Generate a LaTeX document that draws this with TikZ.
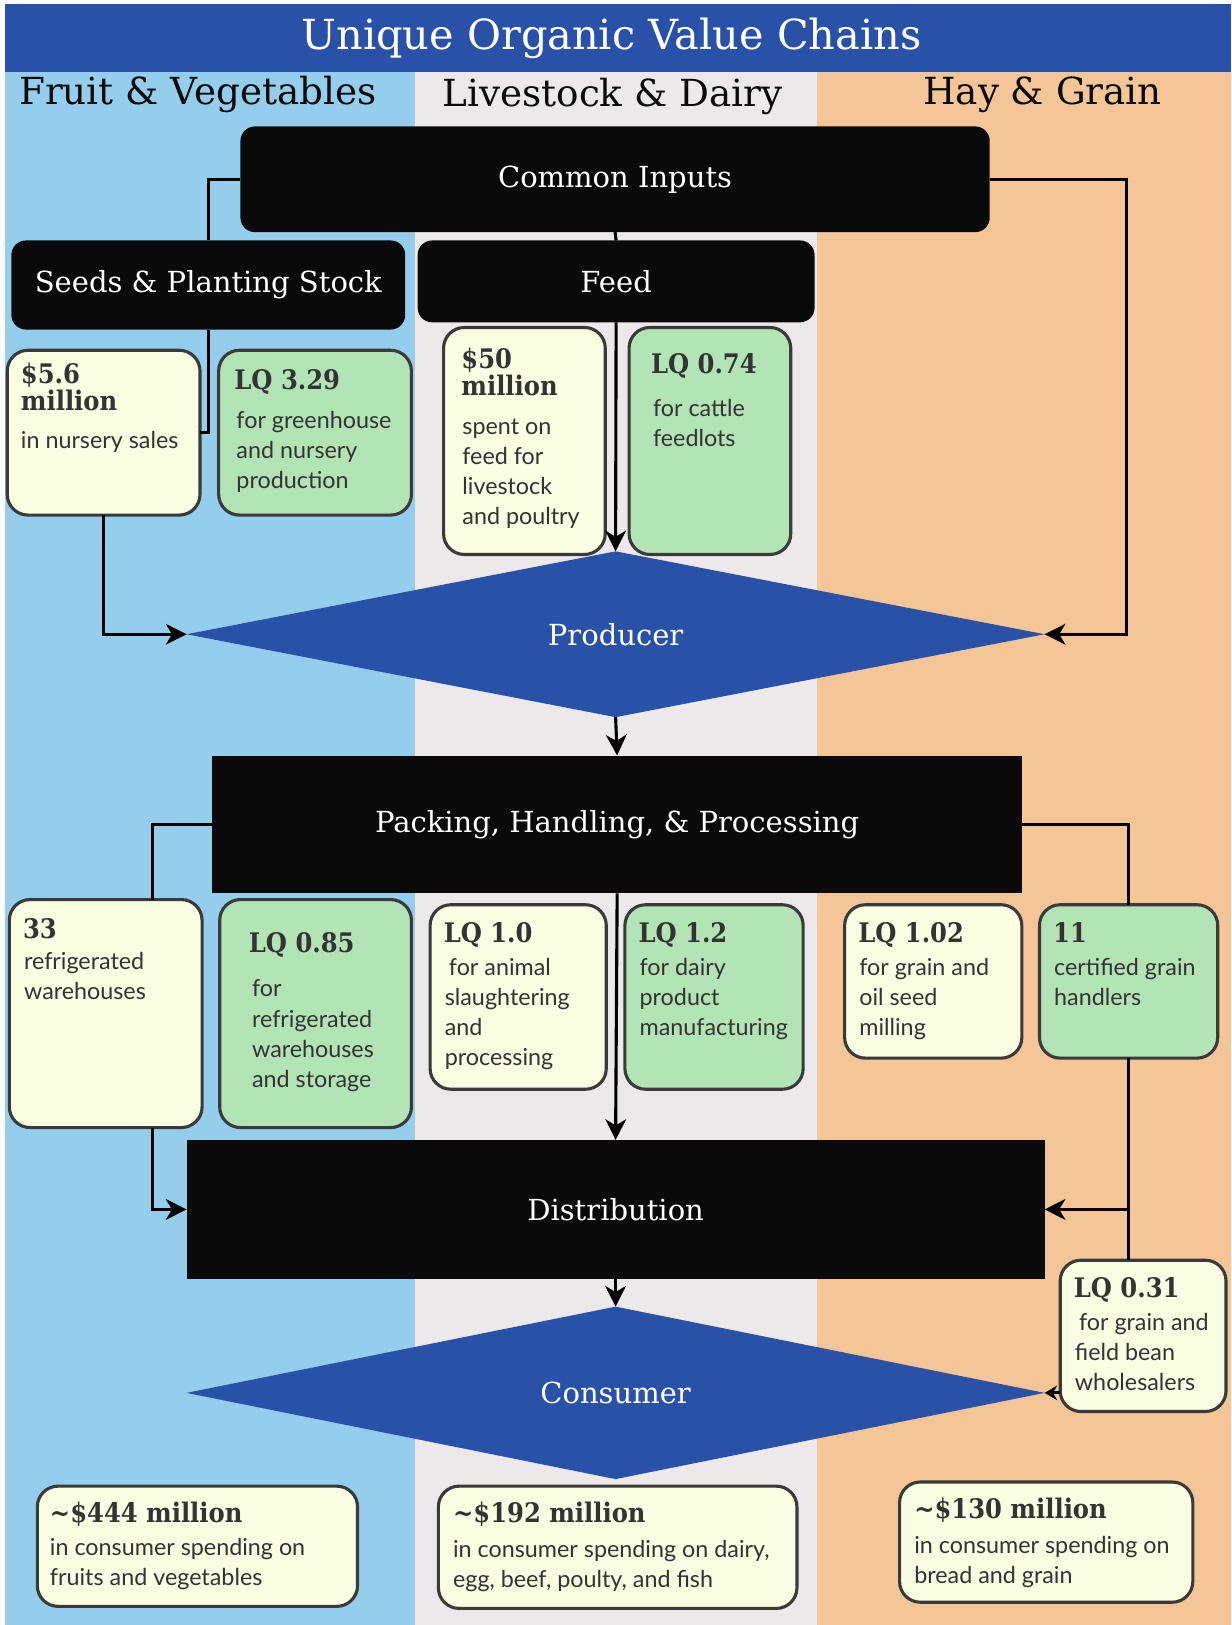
\documentclass[tikz,border=0pt]{standalone}
\usepackage{fontspec}
\setmainfont{DejaVu Serif}
\newfontfamily\bodyfont{Lato}
\newfontfamily\headfont{DejaVu Serif Condensed}
\usetikzlibrary{arrows.meta,positioning,shapes.geometric}
\definecolor{TitleBlue}{HTML}{2851A7}
\definecolor{ColBlue}{HTML}{95CEEC}
\definecolor{ColGrey}{HTML}{EDE9EA}
\definecolor{ColOrange}{HTML}{F4C596}
\definecolor{Ylw}{HTML}{F9FEE2}
\definecolor{Grn}{HTML}{B3E4B6}
\definecolor{Blk}{HTML}{0A0A0A}
\definecolor{Edge}{HTML}{3A3A3A}
\definecolor{Ink}{HTML}{333333}

\begin{document}
\begin{tikzpicture}[x=1pt,y=-1pt,
  blk/.style={fill=Blk,text=white,font=\fontsize{28}{32}\selectfont,inner sep=0pt,outer sep=0pt},
  dia/.style={diamond,fill=TitleBlue,text=white,font=\fontsize{28}{32}\selectfont,inner sep=0pt,outer sep=0pt,minimum width=828,minimum height=160},
  box/.style={draw=Edge,line width=3pt,rounded corners=20pt,inner sep=0pt,outer sep=0pt},
  head/.style={anchor=base west,align=left,inner sep=0pt,text=Ink,font=\headfont\bfseries\fontsize{26}{26}\selectfont},
  body/.style={anchor=base west,align=left,inner sep=0pt,text=Ink,font=\bodyfont\fontsize{22.5}{29}\selectfont},
  link/.style={line width=3pt,draw=black},
  arr/.style={link,-{Stealth[length=20pt,width=20pt,inset=6pt]}}]
\useasboundingbox (0,0) rectangle (1188,1568);
\fill[white] (0,0) rectangle (1188,1568);
\fill[ColBlue] (5,69) rectangle (400,1568);
\fill[ColGrey] (400,69) rectangle (788,1568);
\fill[ColOrange] (788,69) rectangle (1188,1568);
\fill[TitleBlue] (5,4) rectangle (1188,69);
\node[text=white,font=\fontsize{40}{46}\selectfont] (title) at (590,37) {Unique Organic Value Chains};
\foreach \n/\x/\y/\s in {fv/191/91/Fruit \& Vegetables,ld/591/93/Livestock \& Dairy,hg/1006/91/Hay \& Grain}
  \node[text=Blk,font=\fontsize{36}{42}\selectfont] (\n) at (\x,\y) {\s};

\node[blk,rounded corners=14pt,minimum width=723,minimum height=102] (ci) at (593.5,173) {Common Inputs};
\node[blk,rounded corners=14pt,minimum width=380,minimum height=86] (seeds) at (201,275) {Seeds \& Planting Stock};
\node[blk,rounded corners=14pt,minimum width=383,minimum height=79] (feed) at (594.5,271.5) {Feed};
\node[blk,minimum width=781,minimum height=133] (pack) at (595.5,795.5) {Packing, Handling, \& Processing};
\node[blk,minimum width=828,minimum height=134] (dist) at (594,1167) {Distribution};
\node[dia] (prod) at (594,612) {Producer};
\node[dia] (cons) at (594,1344) {Consumer};

\foreach \n/\cx/\cy/\w/\h/\c in {m56/100/417.5/186/159/Ylw,lq329/304/417.5/186/159/Grn,m50/506/425.5/156/219/Ylw,lq074/685/425.5/156/219/Grn,n33/102/978/186/220/Ylw,lq085/304.5/978/185/220/Grn,lq10/500/962/170/178/Ylw,lq12/689/962/172/178/Grn,lq102/900.5/947/171/148/Ylw,n11/1089/947/172/148/Grn,lq031/1103/1289/160/146/Ylw,s444/190.5/1492/309/116/Ylw,s192/596/1493/346/118/Ylw,s130/1009.5/1488/283/116/Ylw}
  \node[box,fill=\c,minimum width=\w,minimum height=\h] (\n) at (\cx,\cy) {};

\node[head] (m56h) at (20,396) {\$5.6\\million};
\node[body] (m56b) at (20,433) {in nursery sales};
\node[head] (lq329h) at (226,376) {LQ 3.29};
\node[body] (lq329b) at (228,471) {for greenhouse\\and nursery\\production};
\node[head] (m50h) at (445,382) {\$50\\million};
\node[body] (m50b) at (446,506) {spent on\\feed for\\livestock\\and poultry};
\node[head] (lq074h) at (628,360) {LQ 0.74};
\node[body] (lq074b) at (630,431) {for cattle\\feedlots};
\node[head] (n33h) at (22,906) {33};
\node[body] (n33b) at (23,964) {refrigerated\\warehouses};
\node[head] (lq085h) at (240,919) {LQ 0.85};
\node[body] (lq085b) at (243,1049) {for\\refrigerated\\warehouses\\and storage};
\node[head] (lq10h) at (428,909) {LQ 1.0};
\node[body] (lq10b) at (429,1028) {\hspace{4pt}for animal\\slaughtering\\and\\processing};
\node[head] (lq12h) at (616,909) {LQ 1.2};
\node[body] (lq12b) at (617,999) {for dairy\\product\\manufacturing};
\node[head] (lq102h) at (828,909) {LQ 1.02};
\node[body] (lq102b) at (829,999) {for grain and\\oil seed\\milling};
\node[head] (n11h) at (1016,909) {11};
\node[body] (n11b) at (1017,970) {certified grain\\handlers};
\node[head] (lq031h) at (1036,1252) {LQ 0.31};
\node[body] (lq031b) at (1037,1342) {\hspace{4pt}for grain and\\field bean\\wholesalers};
\node[head] (s444h) at (48,1469) {\textasciitilde\$444 million};
\node[body] (s444b) at (48,1530) {in consumer spending on\\fruits and vegetables};
\node[head] (s192h) at (437,1469) {\textasciitilde\$192 million};
\node[body] (s192b) at (437,1532) {in consumer spending on dairy,\\egg, beef, poulty, and fish};
\node[head] (s130h) at (882,1465) {\textasciitilde\$130 million};
\node[body] (s130b) at (882,1528) {in consumer spending on\\bread and grain};

\coordinate (hay1) at (1087,173);
\draw[link] (ci.west) -| (seeds.north);
\draw[link] (seeds.south) |- (m56.east);
\draw[arr] (m56.south) |- (prod.west);
\draw[link] (ci.south) -- (feed.north);
\draw[arr] (feed.south) -- (prod.north);
\draw[arr] (ci.east) -- (hay1) |- (prod.east);
\draw[arr] (prod.south) -- (pack.north);
\draw[link] (pack.west) -| ([xshift=45pt]n33.north);
\draw[arr] ([xshift=45pt]n33.south) |- (dist.west);
\draw[link] (pack.east) -| (n11.north);
\draw[link] (n11.south) -- (n11.south |- lq031.north);
\draw[arr] (n11.south |- dist.east) -- (dist.east);
\draw[arr] (pack.south) -- (dist.north);
\draw[arr] (dist.south) -- (cons.north);
\draw[link,-{Stealth[length=12pt,width=14pt,inset=4pt]}] (lq031.west |- cons.east) -- (cons.east);
\end{tikzpicture}
\end{document}
